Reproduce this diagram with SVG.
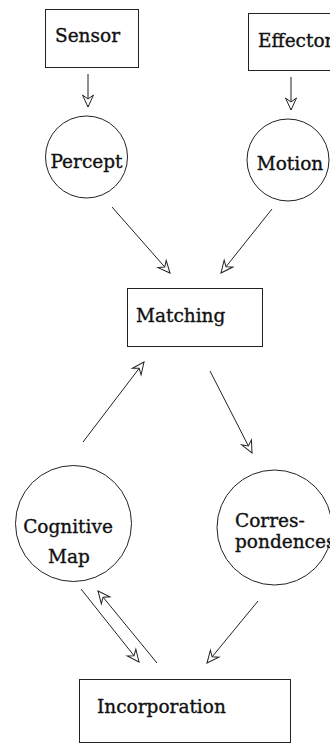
<svg xmlns="http://www.w3.org/2000/svg" width="330" height="744" viewBox="0 0 330 744">
<style>
.box{fill:#fff;stroke:#222;stroke-width:1}
.node{fill:#fff;stroke:#222;stroke-width:1}
.lbl{font-family:"DejaVu Serif","Liberation Serif",serif;font-size:18.5px;fill:#111;stroke:#111;stroke-width:0.35}
.mid{text-anchor:middle}
.edge{stroke:#222;stroke-width:1;fill:none;marker-end:url(#arr)}
</style>
<defs>
<marker id="arr" markerUnits="userSpaceOnUse" viewBox="-13 -7 15 14" refX="0" refY="0" markerWidth="15" markerHeight="14" orient="auto" overflow="visible">
<path d="M0,0 L-12,-5.5 L-8,0 L-12,5.5 Z" fill="#fff" stroke="#222" stroke-width="1" stroke-linejoin="miter"/>
</marker>
</defs>
<rect width="330" height="744" fill="#fff"/>
<g id="sensor"><rect class="box" x="45.5" y="9.5" width="93" height="58"/><text class="lbl" x="55" y="42">Sensor</text></g>
<g id="effector"><rect class="box" x="248.5" y="13.5" width="100" height="57"/><text class="lbl" x="258" y="47">Effector</text></g>
<g id="percept"><circle class="node" cx="86.5" cy="157" r="41"/><text class="lbl mid" x="86.5" y="168">Percept</text></g>
<g id="motion"><circle class="node" cx="288" cy="160" r="41"/><text class="lbl mid" x="290" y="170">Motion</text></g>
<g id="matching"><rect class="box" x="127.5" y="288.5" width="135" height="58"/><text class="lbl" x="136" y="322">Matching</text></g>
<g id="cognitive-map"><circle class="node" cx="73.5" cy="523.5" r="58"/><text class="lbl mid" x="68" y="533">Cognitive</text><text class="lbl mid" x="69" y="563">Map</text></g>
<g id="correspondences"><circle class="node" cx="274.5" cy="527.5" r="57.5"/><text class="lbl" x="235" y="527">Corres-</text><text class="lbl" x="235" y="548">pondences</text></g>
<g id="incorporation"><rect class="box" x="79.5" y="679.5" width="211" height="63"/><text class="lbl" x="97" y="713">Incorporation</text></g>
<g id="connectors">
<line class="edge" x1="88" y1="74" x2="88" y2="107"/>
<line class="edge" x1="291" y1="77" x2="291" y2="110"/>
<line class="edge" x1="112" y1="207" x2="170" y2="273"/>
<line class="edge" x1="272" y1="209" x2="221" y2="273"/>
<line class="edge" x1="83" y1="442" x2="144" y2="362"/>
<line class="edge" x1="210" y1="371" x2="252" y2="453"/>
<line class="edge" x1="81" y1="589" x2="139" y2="662"/>
<line class="edge" x1="157" y1="663" x2="98" y2="591"/>
<line class="edge" x1="258" y1="601" x2="207" y2="663"/>
</g>
</svg>
